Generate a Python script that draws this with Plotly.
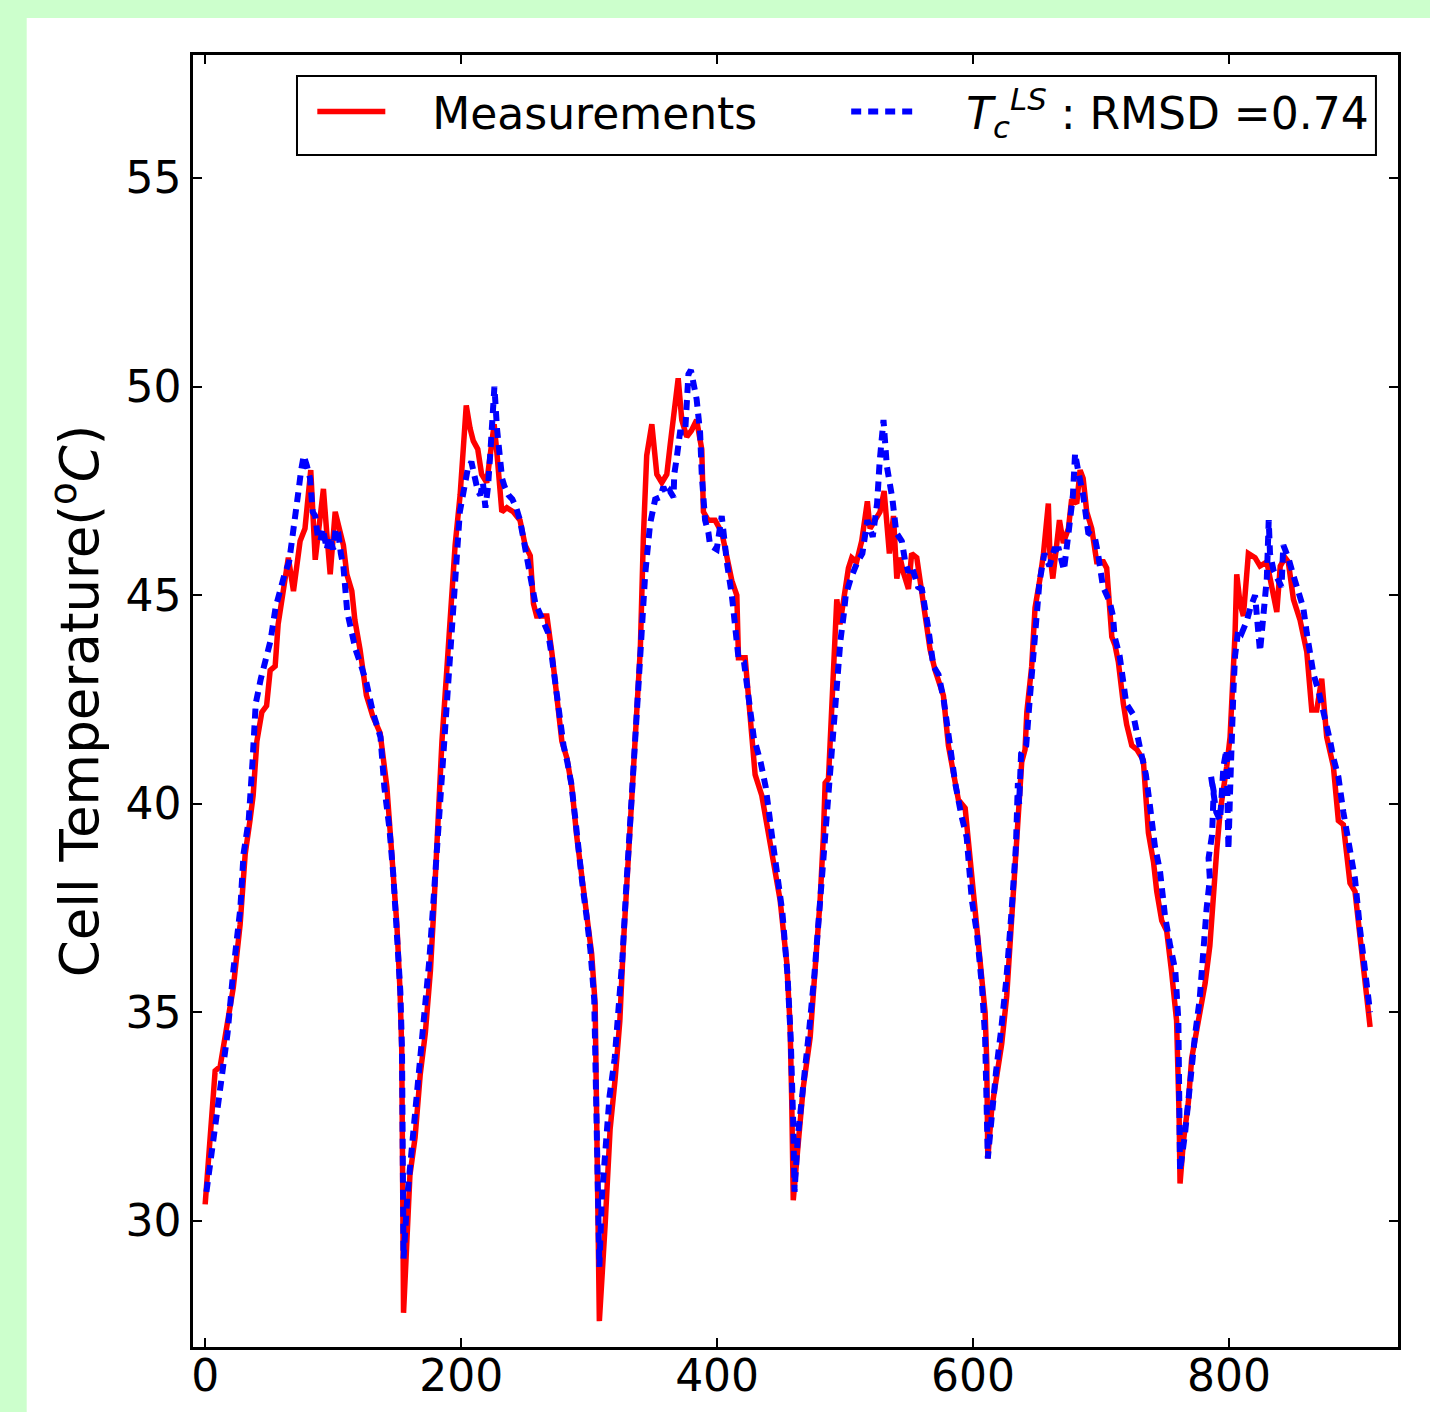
import plotly.graph_objects as go

# Measurements (red)
meas_x = [
    0, 4, 7.8, 11.7, 17, 22, 27.3, 31.3, 35, 37.5, 40.4, 44.3, 48, 50.8, 54.7, 57, 61, 65, 69, 72,
    74.2, 78, 80.7, 82.5, 86, 90, 92.4, 95, 97.7, 101.6, 104, 108, 110.7, 114.6, 117, 121, 126, 131,
    136.7, 142, 145.8, 149.8, 152.3, 153.6, 155,
    160, 164, 168, 172, 176, 178.5, 182, 185, 189, 193, 195.3, 199.2, 201.7, 204, 207, 209.5, 213,
    216, 220, 222.7, 225.8, 228, 231.8, 235.7, 240.7, 246, 250, 254, 256.5, 259, 267, 271, 274.7,
    278.7, 282.6, 286.5, 290.4, 294.3, 298.2, 302, 304.7, 306, 308,
    312.5, 316.4, 320.3, 324, 326.7, 330.5, 333.4, 336, 340, 342.4, 345, 349, 352.9, 356.8, 360.7,
    363.3, 367, 369.6, 372.4, 376.3, 380, 384, 388, 389.3, 393, 398.4, 403.7, 407.6, 411.5, 415.4,
    416.7, 421.9, 425.8, 429.7, 434.9, 438.8, 444, 449.2, 454.4, 457, 458.3, 459.5,
    463.5, 467.3, 472.7, 476.6, 480.5, 483, 484.4, 487, 489.6, 492.2, 493.5, 496, 498.7, 502.6,
    505.2, 509, 513, 515.6, 517.4, 519.5, 523.4, 527.3, 530.5, 532.6, 534.6, 537.8, 540.4, 543,
    545.5, 549.5, 552, 556, 558.6, 562.5, 566.4, 570.3, 576.8, 580.7, 584.6, 588.5, 593.8, 597.7,
    601.6, 605.5, 609.4, 610.7, 611.5,
    614.6, 618.5, 622.4, 626.3, 630.2, 634, 636.7, 638, 640.6, 642, 645.8, 648.4, 652.3, 655,
    658.8, 660, 662.3, 665.4, 667.5, 670.5, 674.5, 677, 681, 683.6, 686, 688.8, 692.7, 696.6,
    701.8, 704.4, 705.7, 708.4, 710.9, 713.5, 717.4, 720, 724, 728, 733, 735.7, 737, 741, 743.5,
    747.4, 751.3, 755, 759, 761, 761.7,
    764.3, 768.2, 770.8, 773.4, 777.3, 781.3, 785, 787.7, 790.4, 793, 795.6, 798.2, 800.8, 803.4,
    804.7, 806, 808.6, 811.2, 815.1, 820.3, 824.2, 829.5, 833.4, 837.3, 840, 843.8, 846.3, 850.3,
    855.5, 860.7, 864.6, 868.5, 872.4, 876.3, 881.5, 885.4, 889.3, 894.5, 898.4, 902.3, 906.3, 910.2,
]
meas_y = [
    30.4, 31.9, 33.6, 33.7, 34.7, 35.6, 37.1, 38.8, 39.6, 40.2, 41.5, 42.2, 42.35, 43.2, 43.3, 44.3,
    45.1, 45.9, 45.1, 45.8, 46.3, 46.6, 47.4, 48.0, 45.85, 47.0, 47.55, 46.5, 45.5, 47.0, 46.7, 46.2,
    45.5, 45.1, 44.4, 43.7, 42.6, 42.1, 41.7, 40.4, 38.8, 37.1, 35.5, 34.1, 27.8,
    31.1, 32.0, 33.5, 34.5, 36.0, 37.4, 39.6, 41.5, 43.3, 45.1, 46.2, 47.4, 48.4, 49.55, 49.0, 48.7,
    48.5, 47.9, 47.7, 48.3, 49.1, 48.4, 47.0, 47.1, 47.0, 46.8, 46.2, 45.95, 44.8, 44.5, 44.5, 43.6,
    42.7, 41.5, 41.1, 40.4, 39.2, 38.2, 37.4, 36.4, 35.2, 32.3, 27.6,
    29.9, 32.2, 33.4, 34.8, 36.6, 38.6, 40.4, 41.9, 43.7, 46.4, 48.35, 49.1, 47.9, 47.7, 47.9, 48.6,
    49.55, 50.2, 49.2, 48.8, 48.95, 49.2, 48.5, 47.0, 46.8, 46.8, 46.5, 45.95, 45.35, 45.0, 43.5,
    43.5, 42.2, 40.7, 40.2, 39.5, 38.75, 37.7, 36.2, 34.7, 32.9, 30.5,
    31.9, 33.2, 34.4, 36.0, 37.7, 39.2, 40.5, 40.6, 42.1, 44.2, 44.9, 44.3, 44.9, 45.65, 45.9, 45.8,
    46.3, 46.8, 47.25, 46.6, 46.8, 47.0, 47.5, 46.8, 46.0, 46.9, 45.4, 45.9, 45.55, 45.15, 46.0,
    45.9, 45.3, 44.55, 43.7, 43.2, 42.6, 41.4, 40.65, 40.1, 39.9, 38.7, 37.45, 36.2, 35.0, 33.8, 31.5,
    32.7, 33.4, 34.25, 35.4, 37.2, 39.0, 40.1, 41.0, 41.3, 42.2, 43.3, 44.7, 45.4, 46.0, 47.2, 46.0,
    45.4, 46.25, 46.8, 46.25, 46.6, 47.3, 47.2, 48.0, 47.8, 47.0, 46.6, 45.8, 45.8, 45.65, 45.1,
    44.0, 43.8, 43.4, 42.4, 41.9, 41.4, 41.3, 41.05, 40.0, 39.3, 38.6, 37.9, 37.2, 36.95, 36.0,
    34.8, 32.5, 30.9,
    31.9, 32.85, 33.9, 34.35, 35.0, 35.7, 36.6, 37.9, 38.9, 39.8, 40.3, 40.9, 41.6, 43.0, 44.1, 45.5,
    44.8, 44.5, 46.0, 45.9, 45.7, 45.8, 45.15, 44.6, 45.7, 45.9, 45.8, 44.9, 44.4, 43.65, 42.25,
    42.25, 43.0, 41.6, 40.9, 39.6, 39.5, 38.1, 37.9, 36.8, 35.7, 34.65,
]

# Model T_c^LS (blue dashed)
model_x = [
    1, 6, 12, 17.5, 22, 27.5, 30, 34, 37, 39.5, 43.5, 47.5, 51, 55, 58, 62, 65.6, 69.5, 72.5, 75,
    77, 79.5, 82, 84, 86, 88, 90, 92, 95, 97, 100, 102, 104, 106, 108, 111, 115, 117.5, 122, 126,
    131, 137, 140, 144, 147, 150, 152.5, 153.8, 155,
    158, 161, 165, 169, 172, 175, 178, 181, 184, 187, 190, 193, 196, 199, 202, 205, 208, 211, 213,
    215, 217, 219, 221, 223, 225, 226, 228, 230, 232, 234, 237, 240, 243, 246, 249, 252, 255, 258,
    261, 264, 268, 271, 274, 277, 280, 283, 286, 289, 292, 295, 298, 301, 304, 306, 308,
    310, 313, 316, 320, 323, 326, 329, 332, 335, 338, 341, 343.8, 347.6, 351.6, 355.5, 358, 360.7,
    363, 366, 366.5, 368.5, 371, 375, 376.3, 377.6, 379.5, 381.5, 384, 386.7, 388, 390.6, 393.2,
    394.5, 399.7, 403.6, 405, 407.6, 411.5, 414, 416.7, 421, 425, 428.6, 434, 438, 443, 447, 451,
    455, 457.5, 459.6, 460.5,
    463, 467, 472, 476, 480, 483.5, 486, 489, 491, 494, 496.3, 499, 500.5, 504.4, 509.6, 513.5,
    517.4, 521.6, 525, 527, 528.6, 530, 532.6, 535, 537, 540, 544.3, 547, 549.5, 552, 554.6, 557,
    560, 562.5, 565, 569, 573, 577, 582, 586, 591, 595, 599, 603, 607, 609.4, 611.5,
    614.5, 618, 622, 626, 630, 633.5, 635, 636, 637.5, 641.5, 644, 648, 650, 651.8, 655.7, 659.6,
    663.5, 667, 671, 672, 675, 678, 679.7, 682, 686, 690, 695, 697.6, 701.5, 706.7, 709.3, 710.6,
    714.5, 719.7, 725, 730, 735, 738, 742, 746, 750, 754, 758, 760.4, 761.7,
    765.6, 769.5, 773.4, 777, 778.6, 781, 782.5, 785, 784, 786.7, 788, 786, 790, 793, 795.6, 798,
    799.5, 800.8, 802, 803.4, 804.7, 807.3, 810, 814, 816.7, 820.3, 824.2, 827, 829.5, 831, 832,
    834.7, 837.3, 841, 842.4, 846.3, 850, 854, 858, 860.7, 866, 870, 873.7, 879, 881.5, 885.4,
    889.3, 894.5, 898.4, 902.3, 906.3, 910.2,
]
model_y = [
    30.7, 31.8, 33.2, 34.5, 36.0, 37.5, 38.8, 39.6, 41.0, 42.4, 43.0, 43.5, 43.9, 44.7, 45.1, 45.5,
    45.8, 46.6, 47.4, 48.0, 48.35, 48.1, 47.8, 47.0, 46.9, 46.4, 46.3, 46.6, 46.1, 46.4, 46.1, 46.6,
    46.5, 46.0, 45.7, 44.6, 44.1, 43.7, 43.3, 42.9, 42.2, 41.6, 40.4, 39.4, 38.3, 36.9, 35.5, 34.1,
    29.1,
    30.6, 31.6, 32.8, 33.9, 35.0, 36.2, 37.5, 38.8, 40.2, 41.7, 43.0, 44.4, 45.8, 47.0, 47.5, 48.0,
    48.2, 47.8, 47.5, 47.4, 47.7, 47.1, 47.6, 48.5, 49.5, 50.0, 49.0, 48.5, 47.8, 47.6, 47.4, 47.3,
    47.1, 46.8, 46.3, 45.9, 45.4, 44.8, 44.6, 44.4, 44.1, 43.5, 42.8, 42.0, 41.4, 41.0, 40.5, 39.7,
    38.7, 38.0, 37.3, 36.5, 35.3, 32.5, 28.9,
    30.6, 31.9, 33.0, 33.9, 35.0, 36.3, 38.0, 39.6, 41.3, 42.8, 44.2, 45.5, 46.7, 47.3, 47.35, 47.6,
    47.4, 47.5, 47.35, 47.9, 48.3, 48.9, 48.9, 49.5, 50.3, 50.4, 50.1, 49.7, 48.9, 47.9, 46.8, 46.5,
    46.2, 46.1, 46.9, 46.4, 45.8, 45.0, 44.3, 43.5, 43.4, 42.5, 41.6, 41.0, 40.4, 39.2, 38.4, 37.4,
    35.9, 34.4, 32.2, 30.7,
    32.0, 33.1, 34.6, 35.9, 37.5, 38.9, 40.0, 41.1, 42.1, 43.1, 43.9, 44.55, 45.0, 45.4, 45.8, 46.0,
    46.8, 46.4, 47.2, 48.2, 48.7, 49.2, 48.1, 47.7, 47.3, 46.5, 46.3, 45.8, 45.55, 45.7, 45.4, 45.2,
    45.15, 44.55, 44.2, 43.3, 43.1, 42.5, 41.25, 40.5, 39.7, 39.2, 37.7, 36.9, 35.6, 34.4, 31.5,
    32.6, 33.6, 34.6, 35.8, 37.4, 39.0, 40.5, 40.0, 41.2, 41.4, 42.4, 43.8, 44.7, 45.3, 46.0, 45.7,
    46.1, 46.1, 45.6, 45.8, 46.6, 47.4, 48.4, 48.0, 47.4, 46.5, 46.4, 46.0, 45.2, 44.85, 44.5, 44.0,
    43.55, 42.4, 42.15, 41.4, 40.7, 40.0, 39.0, 38.4, 37.3, 36.6, 36.0, 34.8, 31.2,
    32.1, 33.4, 34.45, 35.3, 36.05, 36.8, 37.5, 38.2, 38.7, 39.25, 40.3, 40.65, 39.8, 39.6, 40.9,
    41.3, 38.9, 40.3, 41.9, 42.7, 43.55, 44.2, 44.1, 44.4, 44.7, 45.0, 43.65, 44.5, 45.4, 46.8,
    46.0, 45.6, 45.4, 45.2, 46.2, 45.9, 45.5, 45.15, 44.7, 44.1, 43.1, 42.7, 42.25, 41.5, 41.1,
    40.65, 39.8, 38.95, 38.2, 37.0, 36.05, 35.0,
]

x_ticks = [0, 200, 400, 600, 800]
y_ticks = [30, 35, 40, 45, 50, 55]

FONT = "DejaVu Sans"
NB = "\u00a0"

fig = go.Figure()
fig.add_trace(go.Scatter(
    x=meas_x, y=meas_y, mode="lines",
    name=NB * 3 + "Measurements" + NB * 6,
    line=dict(color="#ff0000", width=5.5),
))
fig.add_trace(go.Scatter(
    x=model_x, y=model_y, mode="lines",
    name=NB * 3 + "<i>T</i><sub><i>c</i></sub><sup><i>LS</i></sup> : RMSD =0.74",
    line=dict(color="#0000ff", width=6, dash="10px,7px"),
))

# white figure panel over the light-green page background
fig.add_shape(type="rect", xref="paper", yref="paper",
              x0=-0.138, x1=1.03, y0=-0.06, y1=1.0286,
              fillcolor="white", line=dict(width=0), layer="below")
# legend frame
fig.add_shape(type="rect", xref="paper", yref="paper",
              x0=0.0863, x1=0.9817, y0=0.9226, y1=0.9837,
              fillcolor="white", line=dict(color="black", width=2), layer="below")

axis_common = dict(
    showgrid=False, zeroline=False, showline=True, linecolor="black", linewidth=2.5,
    mirror="ticks", ticks="inside", ticklen=9, tickwidth=2, tickcolor="black",
    tickfont=dict(family=FONT, size=44, color="black"), automargin=False,
)

fig.update_xaxes(range=[-9.5, 932], tickvals=x_ticks, ticktext=[str(v) for v in x_ticks],
                 ticklabelstandoff=-12, **axis_common)
fig.update_yaxes(range=[26.98, 57.95], tickvals=y_ticks, ticktext=[str(v) for v in y_ticks],
                 title=dict(text="Cell Temperature(<sup>o</sup><i>C</i>)",
                            font=dict(family=FONT, size=53, color="black"), standoff=10),
                 **axis_common)

fig.update_layout(
    width=1430, height=1412,
    margin=dict(l=193, r=32, t=55, b=65, autoexpand=False),
    paper_bgcolor="#ccffcc", plot_bgcolor="white",
    font=dict(family=FONT, color="black"),
    showlegend=True,
    legend=dict(
        orientation="h", x=0.982, xanchor="right", y=0.985, yanchor="top",
        bgcolor="rgba(0,0,0,0)", bordercolor="rgba(0,0,0,0)", borderwidth=2,
        font=dict(family=FONT, size=44, color="black"),
        itemwidth=68,
    ),
)

fig.write_html(
    "out.html",
    config={"displayModeBar": False},
    post_script="document.body.style.margin='0';document.body.style.background='#ccffcc';",
)
